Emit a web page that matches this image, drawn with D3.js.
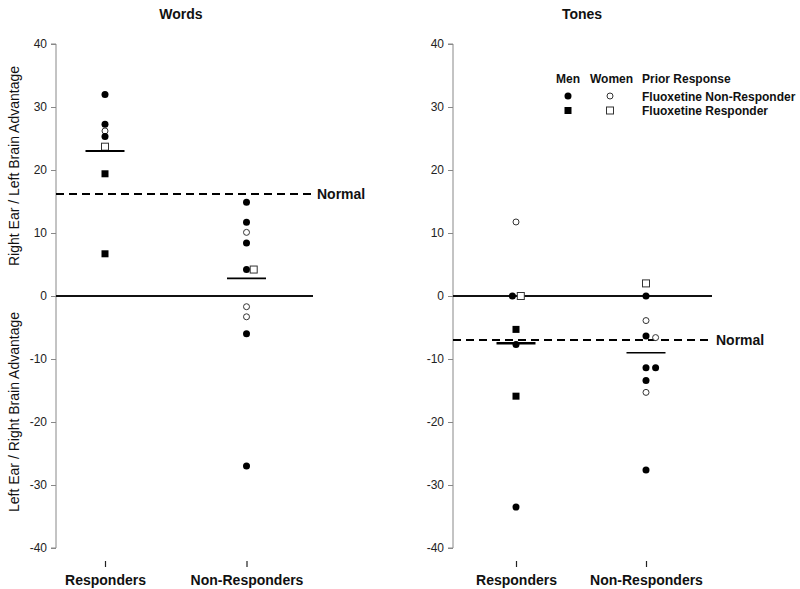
<!DOCTYPE html>
<html>
<head>
<meta charset="utf-8">
<script src="https://cdn.jsdelivr.net/npm/d3@7"></script>
<style>
  body { margin: 0; background: #fff; }
  svg { display: block; font-family: "Liberation Sans", Arial, Helvetica, sans-serif; }
</style>
</head>
<body>
<svg id="chart" width="800" height="589"></svg>
<script>
// ---------- data ----------
const categories = ["Responders", "Non-Responders"];
const panelTitles = ["Words", "Tones"];
const yTicks = [-40, -30, -20, -10, 0, 10, 20, 30, 40];

// Words panel
const wordsGroup = ["Responders","Responders","Responders","Responders","Responders","Responders","Responders",
  "Non-Responders","Non-Responders","Non-Responders","Non-Responders","Non-Responders","Non-Responders",
  "Non-Responders","Non-Responders","Non-Responders","Non-Responders"];
const wordsValue = [32.0, 27.25, 26.2, 25.3, 23.7, 19.4, 6.7,
  14.9, 11.7, 10.1, 8.4, 4.2, 4.2, -1.7, -3.3, -6.0, -27.0];
const wordsSex   = ["M","M","W","M","W","M","M", "M","M","W","M","M","W","W","W","M","M"];
const wordsPrior = ["NR","NR","NR","NR","R","R","R", "NR","NR","NR","NR","NR","R","NR","NR","NR","NR"];
const wordsDodge = [0,0,0,0,0,0,0, 0,0,0,0,0,0.9,0,0,0,0];
const wordsMeans = [23.0, 2.8];
const wordsNormal = 16.2;

// Tones panel
const tonesGroup = ["Responders","Responders","Responders","Responders","Responders","Responders","Responders",
  "Non-Responders","Non-Responders","Non-Responders","Non-Responders","Non-Responders","Non-Responders",
  "Non-Responders","Non-Responders","Non-Responders","Non-Responders"];
const tonesValue = [11.75, 0, 0, -5.3, -7.7, -15.9, -33.5,
  2.0, 0, -3.9, -6.35, -6.6, -11.4, -11.4, -13.4, -15.3, -27.6];
const tonesSex   = ["W","M","W","M","M","M","M", "W","M","W","M","W","M","M","M","W","M"];
const tonesPrior = ["NR","NR","R","R","NR","R","NR", "R","NR","NR","NR","NR","NR","NR","NR","NR","NR"];
const tonesDodge = [0,-0.45,0.6,0,0,0,0, 0,0,0,0,1.2,0,1.2,0,0,0];
const tonesMeans = [-7.5, -9.0];
const tonesNormal = -7.0;

// legend
const legendHeaders = ["Men", "Women", "Prior Response"];
const legendRows = ["Fluoxetine Non-Responder", "Fluoxetine Responder"];

// ---------- build ----------
function rows(group, value, sex, prior, dodge) {
  return group.map((g, i) => ({ group: g, value: value[i], sex: sex[i], prior: prior[i], dodge: dodge[i] }));
}
const panels = [
  { title: panelTitles[0], data: rows(wordsGroup, wordsValue, wordsSex, wordsPrior, wordsDodge),
    means: wordsMeans, normal: wordsNormal,
    axisX: 56, catRange: [105, 246.5], lineEnd: 313, titleX: 181, meanW: [2, 1.6] },
  { title: panelTitles[1], data: rows(tonesGroup, tonesValue, tonesSex, tonesPrior, tonesDodge),
    means: tonesMeans, normal: tonesNormal,
    axisX: 453, catRange: [516, 646], lineEnd: 712, titleX: 582, meanW: [2.6, 1.6] }
];

const svg = d3.select("#chart");
const y = d3.scaleLinear().domain([-40, 40]).range([548, 44]);
const DODGE_PX = 8;

function drawSymbol(g, d, cx, cy) {
  const filled = d.sex === "M";
  if (d.prior === "R") {
    const s = filled ? 7 : 7;
    g.append("rect").attr("x", cx - s/2).attr("y", cy - s/2).attr("width", s).attr("height", s)
      .attr("fill", filled ? "#000" : "#fff")
      .attr("stroke", filled ? "none" : "#333").attr("stroke-width", 1);
  } else {
    g.append("circle").attr("cx", cx).attr("cy", cy).attr("r", filled ? 3.5 : 3)
      .attr("fill", filled ? "#000" : "#fff")
      .attr("stroke", filled ? "none" : "#333").attr("stroke-width", 1);
  }
}

panels.forEach(p => {
  const g = svg.append("g");
  const x = d3.scalePoint().domain(categories).range(p.catRange);

  // title
  g.append("text").attr("x", p.titleX).attr("y", 19).attr("text-anchor", "middle")
    .attr("font-size", 14).attr("font-weight", "bold").attr("fill", "#111").text(p.title);

  // y axis
  const ax = g.append("g").attr("transform", `translate(${p.axisX},0)`)
    .call(d3.axisLeft(y).tickValues(yTicks).tickSize(5).tickPadding(4).tickFormat(d => String(d)));
  ax.select(".domain").attr("stroke", "#888").attr("d", `M-5,${y(40)}H0V${y(-40)}H-5`);
  ax.selectAll(".tick line").attr("stroke", "#888");
  ax.selectAll(".tick text").attr("font-size", 12).attr("fill", "#222")
    .attr("font-family", "Liberation Sans, Arial, sans-serif");

  // x ticks and labels
  const xa = g.append("g").attr("transform", "translate(0,561)")
    .call(d3.axisBottom(x).tickSize(6).tickPadding(8));
  xa.select(".domain").remove();
  xa.selectAll(".tick line").attr("stroke", "#222").attr("stroke-width", 1.2);
  xa.selectAll(".tick text").attr("font-size", 14).attr("font-weight", "bold").attr("fill", "#111")
    .attr("font-family", "Liberation Sans, Arial, sans-serif");

  // zero line
  g.append("line").attr("x1", p.axisX).attr("x2", p.lineEnd).attr("y1", y(0)).attr("y2", y(0))
    .attr("stroke", "#111").attr("stroke-width", 1.8);

  // normal dashed line
  g.append("line").attr("x1", p.axisX).attr("x2", p.lineEnd - 1).attr("y1", y(p.normal)).attr("y2", y(p.normal))
    .attr("stroke", "#000").attr("stroke-width", 2).attr("stroke-dasharray", "8,5");
  g.append("text").attr("x", p.lineEnd + 4).attr("y", y(p.normal) + 5)
    .attr("font-size", 14).attr("font-weight", "bold").attr("fill", "#111").text("Normal");

  // points
  const pts = g.append("g");
  p.data.forEach(d => drawSymbol(pts, d, x(d.group) + d.dodge * DODGE_PX, y(d.value)));

  // mean lines
  categories.forEach((c, i) => {
    g.append("line").attr("x1", x(c) - 19.5).attr("x2", x(c) + 19.5)
      .attr("y1", y(p.means[i])).attr("y2", y(p.means[i]))
      .attr("stroke", "#000").attr("stroke-width", p.meanW[i]);
  });
});

// y axis labels
svg.append("text").attr("transform", "translate(19,166) rotate(-90)").attr("text-anchor", "middle")
  .attr("font-size", 14).attr("fill", "#111").text("Right Ear / Left Brain Advantage");
svg.append("text").attr("transform", "translate(19,412) rotate(-90)").attr("text-anchor", "middle")
  .attr("font-size", 14).attr("fill", "#111").text("Left Ear / Right Brain Advantage");

// legend
const lg = svg.append("g");
const hx = [556, 590, 642];
legendHeaders.forEach((h, i) => {
  lg.append("text").attr("x", hx[i]).attr("y", 83).attr("font-size", 12).attr("font-weight", "bold")
    .attr("fill", "#111").text(h);
});
const legendSyms = [
  [{ sex: "M", prior: "NR" }, { sex: "W", prior: "NR" }],
  [{ sex: "M", prior: "R" }, { sex: "W", prior: "R" }]
];
legendRows.forEach((r, i) => {
  const cy = 96 + i * 14.5;
  drawSymbol(lg, legendSyms[i][0], 568, cy);
  drawSymbol(lg, legendSyms[i][1], 610, cy);
  lg.append("text").attr("x", 642).attr("y", cy + 4.5).attr("font-size", 12).attr("font-weight", "bold")
    .attr("fill", "#111").text(r);
});
</script>
</body>
</html>
